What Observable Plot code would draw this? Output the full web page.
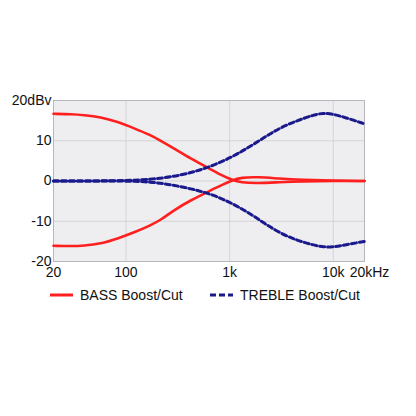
<!DOCTYPE html>
<html>
<head>
<meta charset="utf-8">
<script src="https://cdn.jsdelivr.net/npm/d3@7"></script>
<script src="https://cdn.jsdelivr.net/npm/@observablehq/plot@0.6"></script>
<style>
  html, body { margin: 0; padding: 0; background: #fff; }
  body { width: 416px; height: 416px; position: relative; font-family: "Liberation Sans", Arial, Helvetica, sans-serif; }
  #chart { position: absolute; left: 0; top: 0; }
  #legend { position: absolute; left: 0; top: 284px; width: 416px; height: 22px; font-size: 14px; color: #111; }
  .item { position: absolute; top: 0; display: flex; align-items: center; height: 22px; }
  .item svg { margin-right: 7px; }
</style>
</head>
<body>
<div id="chart"></div>
<div id="legend"></div>
<script>
// Frequencies (Hz) and levels (dBv)
const bassFreq = [20, 30, 39, 57, 83, 120, 173, 216, 291, 420, 660, 840, 1050, 1280, 1900, 3000, 5000, 10000, 20000];
const bassBoost = [16.7, 16.6, 16.4, 15.9, 14.7, 13.1, 11.4, 10.0, 8.1, 5.6, 2.9, 1.4, 0.3, -0.4, -0.55, -0.3, -0.1, 0, 0];
const bassCut = [-16.1, -16.2, -16.1, -15.6, -14.3, -12.8, -11.0, -9.7, -7.2, -4.8, -2.3, -1.0, 0.1, 0.9, 1.0, 0.6, 0.3, 0.1, 0];

const trebleFreq = [20, 50, 100, 173, 272, 420, 660, 1050, 1580, 2150, 3100, 4500, 6400, 8000, 10000, 13000, 20000];
const trebleBoost = [0, 0, 0.1, 0.4, 1.0, 2.0, 3.6, 5.9, 8.6, 10.8, 13.3, 15.0, 16.4, 16.9, 16.6, 15.8, 14.2];
const trebleCut = [0, 0, 0, -0.2, -0.9, -1.9, -3.2, -5.5, -8.1, -10.5, -13.0, -14.8, -15.9, -16.4, -16.4, -15.9, -15.0];

const xTicks = [20, 100, 1000, 10000];
const xTickLabels = ["20", "100", "1k", "10k"];
const xEndTick = [20000];
const xEndLabel = "20kHz";
const yTicks = [-20, -10, 0, 10, 20];
const yTickLabels = ["-20", "-10", "0", "10", "20dBv"];
const xGrid = [100, 1000, 10000];
const yGrid = [-10, 0, 10];

const seriesNames = ["BASS Boost/Cut", "TREBLE Boost/Cut"];
const red = "#ff1f1f";
const blue = "#1a1a8c";

const mk = (freqs, vals) => freqs.map((f, i) => ({f, v: vals[i]}));
const bB = mk(bassFreq, bassBoost);
const bC = mk(bassFreq, bassCut);
const tB = mk(trebleFreq, trebleBoost);
const tC = mk(trebleFreq, trebleCut);

const chart = Plot.plot({
  width: 416,
  height: 282,
  marginLeft: 53,
  marginRight: 52,
  marginTop: 100,
  marginBottom: 21,
  style: {fontFamily: '"Liberation Sans", Arial, sans-serif', fontSize: "14px", color: "#111", background: "transparent"},
  x: {type: "log", domain: [20, 20000]},
  y: {domain: [-20, 20]},
  marks: [
    Plot.frame({fill: "#eeeef1", stroke: null}),
    Plot.ruleX(xGrid, {stroke: "#d4d4d8", strokeWidth: 1}),
    Plot.ruleY(yGrid, {stroke: "#d4d4d8", strokeWidth: 1}),
    Plot.frame({stroke: "#b8b8bc", strokeWidth: 1}),
    Plot.line(bB, {x: "f", y: "v", stroke: red, strokeWidth: 2.6, curve: "basis"}),
    Plot.line(bC, {x: "f", y: "v", stroke: red, strokeWidth: 2.6, curve: "basis"}),
    Plot.line(tB, {x: "f", y: "v", stroke: blue, strokeWidth: 3, strokeDasharray: "5,3", curve: "basis"}),
    Plot.line(tC, {x: "f", y: "v", stroke: blue, strokeWidth: 3, strokeDasharray: "5,3", curve: "basis"}),
    Plot.axisX({ticks: xTicks, tickFormat: d => xTickLabels[xTicks.indexOf(d)], tickSize: 0, tickPadding: 6, fontSize: 14, fill: "#111", label: null}),
    Plot.axisX({ticks: xEndTick, tickFormat: () => xEndLabel, tickSize: 0, tickPadding: 6, dx: 5, fontSize: 14, fill: "#111", label: null}),
    Plot.axisY({ticks: yTicks, tickFormat: d => yTickLabels[yTicks.indexOf(d)], tickSize: 0, tickPadding: 2, fontSize: 14, fill: "#111", label: null})
  ]
});
document.getElementById("chart").appendChild(chart);

// Legend
const legend = document.getElementById("legend");
const items = [
  {name: seriesNames[0], color: red, dash: null, left: 50},
  {name: seriesNames[1], color: blue, dash: "6,3", left: 210}
];
for (const it of items) {
  const div = document.createElement("div");
  div.className = "item";
  div.style.left = it.left + "px";
  div.innerHTML = `<svg width="23" height="6"><line x1="0" y1="3" x2="23" y2="3" stroke="${it.color}" stroke-width="3" ${it.dash ? `stroke-dasharray="${it.dash}"` : ""}/></svg><span>${it.name}</span>`;
  legend.appendChild(div);
}
</script>
</body>
</html>
